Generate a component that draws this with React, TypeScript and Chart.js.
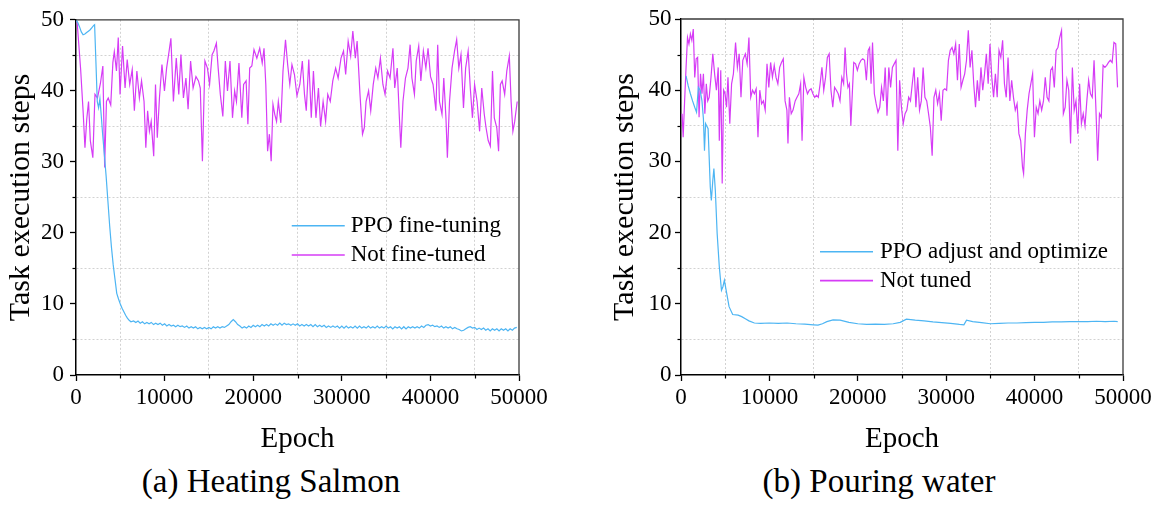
import React, { useEffect, useRef } from 'react';
import { Chart, registerables } from 'chart.js';

Chart.register(...registerables);

const FONT = '"Liberation Serif", "Times New Roman", Times, serif';

// ---------- tick labels ----------
const xTickLabels = [0, 10000, 20000, 30000, 40000, 50000];
const yTickLabels = [0, 10, 20, 30, 40, 50];

// ---------- legend labels ----------
const salmonLabels = ['PPO fine-tuning', 'Not fine-tuned'];
const waterLabels = ['PPO adjust and optimize', 'Not tuned'];
const captions = ['(a) Heating Salmon', '(b) Pouring water'];

const BLUE = '#4db5f3';
const MAGENTA = '#d63cf6';

// ---------- (a) Heating Salmon : PPO fine-tuning ----------
const salmonPpoEpochs = [
  0, 200, 400, 600, 800, 1000, 1200, 1400, 1600, 1800, 2000, 2100, 2250, 2400, 2550, 2700, 2850, 3000,
  3200, 3400, 3600, 3800, 4000, 4200, 4400, 4600, 4800, 5000, 5200, 5400, 5600, 5800, 6000, 6200,
  6500, 6750, 7000, 7250, 7500, 7750, 8000, 8250, 8500, 8750,
  9000, 9250, 9500, 9750, 10000, 10250, 10500, 10750, 11000, 11250,
  11500, 11750, 12000, 12250, 12500, 12750, 13000, 13250, 13500, 13750,
  14000, 14250, 14500, 14750, 15000, 15250, 15500, 15750, 16000, 16250,
  16500, 16750, 17000, 17250, 17500, 17750, 18000, 18250, 18500, 18750,
  19000, 19250, 19500, 19750, 20000, 20250, 20500, 20750, 21000, 21250,
  21500, 21750, 22000, 22250, 22500, 22750, 23000, 23250, 23500, 23750,
  24000, 24250, 24500, 24750, 25000, 25250, 25500, 25750, 26000, 26250,
  26500, 26750, 27000, 27250, 27500, 27750, 28000, 28250, 28500, 28750,
  29000, 29250, 29500, 29750, 30000, 30250, 30500, 30750, 31000, 31250,
  31500, 31750, 32000, 32250, 32500, 32750, 33000, 33250, 33500, 33750,
  34000, 34250, 34500, 34750, 35000, 35250, 35500, 35750, 36000, 36250,
  36500, 36750, 37000, 37250, 37500, 37750, 38000, 38250, 38500, 38750,
  39000, 39250, 39500, 39750, 40000, 40250, 40500, 40750, 41000, 41250,
  41500, 41750, 42000, 42250, 42500, 42750, 43000, 43250, 43500, 43750,
  44000, 44250, 44500, 44750, 45000, 45250, 45500, 45750, 46000, 46250,
  46500, 46750, 47000, 47250, 47500, 47750, 48000, 48250, 48500, 48750,
  49000, 49250, 49500, 49750,
];
const salmonPpoSteps = [
  50, 49.6, 49.0, 48.3, 47.9, 48.0, 48.2, 48.4, 48.6, 48.9, 49.2, 49.3, 44.0, 38.5, 37.6, 38.9, 36.5, 34.0,
  31.0, 28.0, 24.5, 21.0, 18.0, 15.5, 13.5, 11.5, 10.7, 10.0, 9.4, 8.9, 8.4, 8.0, 7.7, 7.5,
  7.6, 7.4, 7.6, 7.3, 7.5, 7.2, 7.4, 7.2, 7.4, 7.1,
  7.3, 7.1, 7.3, 7.0, 7.2, 6.9, 7.1, 6.9, 7.0, 6.8,
  7.0, 6.8, 6.9, 6.7, 6.9, 6.6, 6.8, 6.6, 6.8, 6.5,
  6.7, 6.5, 6.7, 6.5, 6.7, 6.5, 6.8, 6.6, 6.8, 6.6,
  6.8, 6.7, 6.9, 7.1, 7.5, 7.8, 7.5, 7.1, 6.9, 6.6,
  6.8, 6.6, 6.9, 6.7, 7.0, 6.8, 7.0, 6.8, 7.1, 6.9,
  7.1, 6.9, 7.2, 7.0, 7.2, 7.0, 7.3, 7.0, 7.3, 7.1,
  7.2, 7.0, 7.2, 7.0, 7.2, 6.9, 7.1, 6.9, 7.1, 6.9,
  7.1, 6.8, 7.1, 6.8, 7.0, 6.8, 7.0, 6.7, 6.9, 6.7,
  6.9, 6.7, 6.9, 6.6, 6.9, 6.6, 6.9, 6.6, 6.8, 6.6,
  6.9, 6.6, 6.9, 6.6, 6.8, 6.6, 6.9, 6.6, 6.8, 6.6,
  6.9, 6.6, 6.8, 6.6, 6.9, 6.6, 6.8, 6.5, 6.8, 6.6,
  6.8, 6.5, 6.8, 6.5, 6.8, 6.6, 6.8, 6.6, 6.8, 6.6,
  6.9, 6.7, 7.0, 7.1, 6.9, 7.0, 6.8, 6.9, 6.7, 6.9,
  6.6, 6.8, 6.6, 6.8, 6.5, 6.7, 6.5, 6.4, 6.2, 6.3,
  6.5, 6.7, 6.8, 6.6, 6.7, 6.4, 6.6, 6.4, 6.6, 6.3,
  6.5, 6.2, 6.5, 6.3, 6.5, 6.2, 6.5, 6.3, 6.5, 6.2,
  6.5, 6.3, 6.6, 6.7,
];

// ---------- (a) Heating Salmon : Not fine-tuned ----------
const salmonBaseEpochs = [
  121, 525, 808, 1010, 1213, 1415, 1617, 1900, 2142, 2425, 2749, 3031, 3234, 3436, 3638, 3921, 4163, 4325, 4567, 4770,
  4972, 5255, 5538, 5780, 6063, 6346, 6588, 6871, 7154, 7397, 7680, 7882, 8084, 8286, 8488, 8771, 8973, 9175, 9418, 9701,
  9984, 10226, 10509, 10711, 10994, 11318, 11601, 11843, 12126, 12409, 12651, 12934, 13217, 13541, 13824, 14026, 14268, 14551, 14834, 15077,
  15360, 15562, 15845, 16047, 16289, 16572, 16855, 17098, 17381, 17664, 17906, 18108, 18391, 18714, 18917, 19200, 19402, 19604, 19846, 20089,
  20412, 20735, 21018, 21221, 21423, 21625, 21827, 22029, 22231, 22433, 22635, 22837, 23120, 23363, 23646, 23888, 24131, 24373, 24656, 24939,
  25263, 25545, 25788, 25990, 26273, 26556, 26798, 27081, 27364, 27607, 27890, 28173, 28415, 28698, 28981, 29305, 29587, 29911, 30194, 30436,
  30719, 31002, 31245, 31528, 31730, 32053, 32336, 32538, 32740, 33023, 33266, 33549, 33832, 34074, 34357, 34640, 34882, 35165, 35448, 35772,
  35974, 36257, 36499, 36661, 36903, 37186, 37469, 37712, 37914, 38197, 38399, 38682, 38924, 39207, 39490, 39733, 40016, 40299, 40622, 40824,
  41026, 41309, 41511, 41754, 41915, 42158, 42441, 42724, 42966, 43209, 43452, 43734, 43977, 44260, 44502, 44745, 44988, 45270, 45553, 45796,
  46079, 46281, 46523, 46766, 47008, 47211, 47494, 47696, 47898, 48100, 48383, 48625, 48908, 49110, 49312, 49515, 49798,
];
const salmonBaseSteps = [
  49.8, 43, 37, 32, 36, 38.5, 33, 30.6, 39.5, 39, 41, 43.5, 29.2, 38.5, 39, 38, 44, 45.5, 42.8, 47.5,
  39.5, 46.3, 40.4, 44.4, 40.9, 43, 37.2, 42.8, 39, 41.4, 38.5, 32, 37.2, 34.3, 35.7, 30.8, 40.9, 33.4, 39, 43.7,
  40, 43.2, 45.6, 47.4, 38.5, 44.6, 39.5, 45.1, 39, 41.8, 37.4, 44.2, 40.4, 42, 41.4, 40.4, 30.1, 44.2, 43.2, 40.9,
  45.1, 45.6, 46.7, 43.2, 39.5, 36.4, 44.2, 40, 44.2, 36.2, 40, 38.5, 43.9, 36.2, 40.9, 41.4, 35.3, 43.2, 43.5, 45.8,
  44.6, 46, 43.9, 46, 40.9, 31.5, 33.9, 30.1, 38.1, 36.7, 35.7, 38.5, 35.5, 42.8, 47.2, 43.7, 40.9, 43.7, 42.3, 39.3,
  40.9, 44.2, 39.5, 37.2, 44.4, 36.2, 42.8, 36.2, 40.4, 35, 38.5, 35.7, 39.5, 38.5, 41.4, 43.2, 41.8, 44.6, 45.6, 42.3,
  47, 44.9, 48.4, 44.6, 47, 39.5, 33.9, 34.8, 38.5, 40, 37.2, 40.9, 43.2, 41.8, 44.6, 40.9, 39.5, 42.8, 41.8, 46,
  40.4, 43.2, 36.2, 32, 38.5, 41.8, 43.2, 46.5, 41.8, 39.5, 44.2, 46.3, 41.4, 45.6, 43.2, 46, 42, 40.9, 37.2, 46.5,
  38.5, 36.7, 41.8, 36.2, 30.6, 38.5, 43.2, 45.6, 47.2, 43.2, 45.1, 37.6, 43.2, 45.6, 40.4, 36.2, 40.9, 38.5, 34.3, 40.4,
  36.7, 34.8, 33, 32.2, 42.8, 36.2, 34.8, 31.5, 40.9, 41.4, 39.5, 42.8, 44.9, 38.5, 34.3, 35.7, 38.5,
];

// ---------- (b) Pouring water : PPO adjust and optimize ----------
const waterPpoEpochs = [
  572, 818, 1063, 1308, 1553, 1758, 1962, 2167, 2371, 2535,
  2657, 2780, 3066, 3311, 3434, 3597, 3720, 3884, 4088, 4333,
  4579, 4742, 4906, 5110, 5437, 5846, 6459, 6868, 7277, 7685,
  8299, 9000, 10000, 11000, 12000, 13000, 14000, 15000, 15500, 16000,
  16500, 17200, 18000, 19000, 20000, 21000, 22000, 23000, 24000, 24800,
  25500, 26500, 27500, 28500, 29500, 30500, 31500, 32000, 32300, 33000,
  34000, 35000, 36000, 37000, 38000, 39000, 40000, 41000, 42000, 43000,
  44000, 45000, 46000, 47000, 48000, 49000, 49400,
];
const waterPpoSteps = [
  42.0, 40.6, 39.5, 38.5, 37.6, 36.9, 40.4, 40.0, 38.5, 36.0,
  31.5, 35.3, 34.6, 26.4, 24.5, 27.3, 29.0, 25.9, 19.9, 15.2,
  11.9, 12.4, 13.3, 11.9, 9.6, 8.5, 8.4, 8.2, 7.9, 7.6,
  7.3, 7.25, 7.3, 7.25, 7.3, 7.2, 7.15, 7.05, 7.0, 7.2,
  7.5, 7.75, 7.7, 7.4, 7.2, 7.1, 7.15, 7.1, 7.2, 7.4,
  7.85, 7.7, 7.6, 7.45, 7.35, 7.25, 7.1, 7.05, 7.7, 7.5,
  7.35, 7.2, 7.25, 7.3, 7.3, 7.35, 7.4, 7.4, 7.45, 7.45,
  7.5, 7.5, 7.5, 7.55, 7.5, 7.55, 7.5,
];

// ---------- (b) Pouring water : Not tuned ----------
const waterBaseEpochs = [
  123, 245, 409, 572, 736, 899, 1063, 1226, 1390, 1553, 1717, 1880, 2044, 2208, 2371, 2535, 2698, 2862, 3025, 3189,
  3393, 3597, 3802, 4006, 4211, 4333, 4497, 4660, 4824, 4987, 5151, 5314, 5519, 5723, 5928, 6173, 6377, 6582, 6786, 6990,
  7277, 7481, 7685, 7890, 8094, 8299, 8503, 8707, 8912, 9116, 9321, 9525, 9729, 9934, 10138, 10343, 10547, 10751, 10956, 11160,
  11365, 11569, 11773, 11978, 12100, 12264, 12468, 12673, 12918, 13122, 13327, 13531, 13695, 13899, 14104, 14308, 14512, 14717, 14921, 15126,
  15330, 15534, 15739, 15943, 16148, 16352, 16556, 16761, 16965, 17170, 17374, 17578, 17783, 17987, 18192, 18396, 18560, 18723, 18887, 19050,
  19214, 19377, 19541, 19745, 19949, 20154, 20358, 20563, 20767, 20971, 21176, 21339, 21503, 21666, 21871, 22075, 22280, 22484, 22688, 22893,
  23097, 23302, 23506, 23710, 23915, 24119, 24324, 24528, 24732, 24937, 25141, 25346, 25550, 25754, 25959, 26163, 26368, 26572, 26776, 26981,
  27185, 27390, 27594, 27798, 28003, 28207, 28412, 28616, 28820, 29025, 29229, 29434, 29638, 29842, 30047, 30251, 30456, 30660, 30864, 31069,
  31273, 31478, 31682, 31886, 32091, 32295, 32500, 32704, 32908, 33113, 33317, 33522, 33726, 33930, 34135, 34339, 34544, 34748, 34952, 35157,
  35361, 35566, 35770, 35974, 36179, 36383, 36588, 36792, 36996, 37201, 37405, 37610, 37814, 38018, 38223, 38427, 38632, 38754, 38959, 39163,
  39368, 39572, 39776, 39981, 40185, 40390, 40594, 40798, 41003, 41207, 41412, 41616, 41820, 42025, 42229, 42434, 42638, 42842, 43047, 43251,
  43456, 43660, 43864, 44069, 44273, 44478, 44682, 44886, 45091, 45295, 45500, 45704, 45908, 46113, 46317, 46522, 46726, 46930, 47135, 47339,
  47544, 47748, 47952, 48157, 48361, 48566, 48770, 48974, 49179, 49383,
];
const waterBaseSteps = [
  36.7, 33.4, 38.5, 43.2, 47.4, 46.5, 47.9, 47, 48.6, 41.8, 44.4, 44.6, 36.2, 42.3, 39.5, 42.3, 36.7, 40.9, 38.5, 39,
  41.8, 45.1, 42.3, 40, 43.2, 32.9, 42.8, 26.9, 40, 39.5, 37.6, 41.8, 35.3, 40.9, 42.3, 46.7, 43.2, 45.1, 39, 44.2,
  45.1, 43.7, 47.4, 39, 40, 39.5, 40.2, 33.4, 40, 38.1, 38.5, 37.2, 43.7, 40.4, 43.9, 41.8, 43.5, 41.8, 40.9, 43.2,
  43.9, 44.4, 38.5, 37.2, 32.5, 39, 36.7, 37.2, 38.5, 39, 39.5, 40.9, 32.9, 41.8, 40.4, 39.5, 40, 40.2, 39.5, 39,
  39.3, 39, 40.9, 43.2, 40, 41.8, 44.6, 45.1, 40, 37.6, 40.4, 40, 39.5, 38.5, 41.8, 40.9, 46, 42.3, 40.4, 40.9,
  35, 39.5, 43.9, 43.7, 42.8, 43.7, 44.2, 44.4, 44.2, 41.4, 45.6, 46, 40.9, 46.7, 39.5, 38.1, 36.9, 37.6, 40.4, 38.5,
  43.2, 36.4, 43.2, 40.4, 43.2, 43.7, 44.2, 31.5, 41.4, 37.6, 35.3, 36.7, 37.2, 39, 38.5, 40.9, 43.2, 37.6, 41.8, 37.2,
  38.5, 43.2, 39, 38.5, 36.7, 34.8, 30.8, 39, 40, 38.1, 39.5, 35.7, 40, 40.2, 40, 44.2, 45.6, 46, 45.1, 46.5,
  41.4, 46.5, 40.4, 41.4, 42.3, 44.2, 48.4, 43.2, 45.6, 40.9, 37.6, 41.4, 38.5, 43.2, 40, 42.3, 45.1, 40.9, 46.5, 41.8,
  39, 42.3, 39, 45.6, 44.6, 47, 40.9, 39, 44.6, 38.5, 41.4, 39, 37.2, 38.1, 33.9, 32.9, 29.2, 28.3, 33.9, 37.2,
  39.5, 40.9, 42.3, 33.4, 37.6, 36.7, 38.5, 37.2, 38.5, 41.8, 39, 38.5, 42.8, 43.2, 40.4, 45.6, 46, 47.4, 48.4, 36.7,
  37.6, 41.4, 40, 32.5, 43.2, 37.2, 38.5, 33.9, 40.9, 35.3, 36.7, 35, 38.5, 41.4, 39.5, 39, 44.2, 37.6, 30.1, 36.7,
  36.2, 43.5, 43.2, 43.5, 43.9, 44.2, 43.9, 46.7, 46.5, 40.4,
];

function toPoints(xs: number[], ys: number[]) {
  const n = Math.min(xs.length, ys.length);
  const out: { x: number; y: number }[] = [];
  for (let i = 0; i < n; i++) out.push({ x: xs[i], y: ys[i] });
  return out;
}

const framePlugin = {
  id: 'frameBox',
  afterDatasetsDraw(chart: any) {
    const { ctx, chartArea: a, scales } = chart;
    ctx.save();
    ctx.strokeStyle = '#3a3a3a';
    ctx.lineWidth = 1.3;
    ctx.beginPath();
    ctx.moveTo(a.left, a.top);
    ctx.lineTo(a.right, a.top);
    ctx.lineTo(a.right, a.bottom);
    ctx.stroke();
    // minor (short) ticks
    ctx.strokeStyle = '#000';
    ctx.lineWidth = 1.2;
    scales.x.ticks.forEach((t: any) => {
      if (!xTickLabels.includes(t.value)) {
        const px = Math.round(scales.x.getPixelForValue(t.value)) + 0.5;
        ctx.beginPath();
        ctx.moveTo(px, a.bottom);
        ctx.lineTo(px, a.bottom + 3.5);
        ctx.stroke();
      }
    });
    scales.y.ticks.forEach((t: any) => {
      if (!yTickLabels.includes(t.value)) {
        const py = Math.round(scales.y.getPixelForValue(t.value)) + 0.5;
        ctx.beginPath();
        ctx.moveTo(a.left - 3.5, py);
        ctx.lineTo(a.left, py);
        ctx.stroke();
      }
    });
    ctx.restore();
  },
};

const insideLegendPlugin = {
  id: 'insideLegend',
  afterDatasetsDraw(chart: any, _args: any, opts: any) {
    const { ctx, chartArea: a } = chart;
    const x0 = a.left + opts.x * (a.right - a.left);
    chart.data.datasets.forEach((ds: any, i: number) => {
      const y = a.top + opts.ys[i] * (a.bottom - a.top);
      ctx.save();
      ctx.strokeStyle = ds.borderColor;
      ctx.lineWidth = 1.6;
      ctx.beginPath();
      ctx.moveTo(x0, y);
      ctx.lineTo(x0 + opts.lineLen, y);
      ctx.stroke();
      ctx.fillStyle = '#000';
      ctx.font = `23px ${FONT}`;
      ctx.textAlign = 'left';
      ctx.textBaseline = 'middle';
      ctx.fillText(ds.label, x0 + opts.lineLen + opts.gap, y);
      ctx.restore();
    });
  },
};

type Series = { label: string; xs: number[]; ys: number[]; color: string };
type PanelProps = {
  left: number;
  width: number;
  height: number;
  padTop: number;
  padRight: number;
  yAxisWidth: number;
  xAxisHeight: number;
  yTitlePad: number;
  yTickPad: number;
  legendX: number;
  legendYs: number[];
  legendGap: number;
  series: Series[];
};

function Panel(p: PanelProps) {
  const ref = useRef<HTMLCanvasElement | null>(null);
  useEffect(() => {
    if (!ref.current) return;
    const minorGrid = (labels: number[]) => (ctx: any) =>
      ctx.tick && !labels.includes(ctx.tick.value) ? '#d2d2d2' : 'rgba(0,0,0,0)';
    const majorTick = (labels: number[]) => (ctx: any) =>
      ctx.tick && labels.includes(ctx.tick.value) ? '#000' : 'rgba(0,0,0,0)';
    const chart = new Chart(ref.current, {
      type: 'line',
      data: {
        datasets: p.series.map((s) => ({
          label: s.label,
          data: toPoints(s.xs, s.ys),
          borderColor: s.color,
          backgroundColor: s.color,
          borderWidth: 1.2,
          pointRadius: 0,
          fill: false,
          tension: 0,
        })),
      },
      options: {
        animation: false,
        responsive: false,
        maintainAspectRatio: false,
        events: [],
        layout: {
          autoPadding: false,
          padding: { left: 0, top: p.padTop, right: p.padRight, bottom: 0 },
        },
        plugins: {
          legend: { display: false },
          tooltip: { enabled: false },
          title: { display: false },
          insideLegend: { x: p.legendX, ys: p.legendYs, lineLen: 53, gap: p.legendGap },
        } as any,
        scales: {
          x: {
            type: 'linear',
            min: 0,
            max: 50000,
            afterFit: (s: any) => {
              s.height = p.xAxisHeight;
            },
            ticks: {
              stepSize: 5000,
              autoSkip: false,
              maxRotation: 0,
              minRotation: 0,
              padding: 3,
              color: '#000',
              font: { family: FONT, size: 23 },
              callback: (v: any) => (xTickLabels.includes(Number(v)) ? String(v) : ''),
            },
            grid: {
              color: minorGrid(xTickLabels),
              lineWidth: 1,
              drawTicks: true,
              tickLength: 6,
              tickWidth: 1.3,
              tickColor: majorTick(xTickLabels),
            },
            border: { display: true, color: '#000', width: 1.5, dash: [2, 2] },
            title: {
              display: true,
              text: 'Epoch',
              color: '#000',
              font: { family: FONT, size: 29 },
              padding: { top: 0, bottom: 3.4 },
            },
          },
          y: {
            type: 'linear',
            min: 0,
            max: 50,
            afterFit: (s: any) => {
              s.width = p.yAxisWidth;
            },
            ticks: {
              stepSize: 5,
              autoSkip: false,
              padding: p.yTickPad,
              color: '#000',
              font: { family: FONT, size: 23 },
              callback: (v: any) => (yTickLabels.includes(Number(v)) ? String(v) : ''),
            },
            grid: {
              color: minorGrid(yTickLabels),
              lineWidth: 1,
              drawTicks: true,
              tickLength: 6,
              tickWidth: 1.3,
              tickColor: majorTick(yTickLabels),
            },
            border: { display: true, color: '#000', width: 1.5, dash: [2, 2] },
            title: {
              display: true,
              text: 'Task execution steps',
              color: '#000',
              font: { family: FONT, size: 30 },
              padding: { top: p.yTitlePad, bottom: 0 },
            },
          },
        },
      } as any,
      plugins: [framePlugin, insideLegendPlugin],
    });
    return () => chart.destroy();
  }, []);
  return (
    <canvas
      ref={ref}
      width={p.width}
      height={p.height}
      style={{ position: 'absolute', left: p.left, top: 0, width: p.width, height: p.height }}
    />
  );
}

const captionStyle: React.CSSProperties = {
  position: 'absolute',
  top: 465,
  textAlign: 'center',
  fontFamily: FONT,
  fontSize: 33,
  lineHeight: '33px',
  color: '#000',
  whiteSpace: 'nowrap',
};

export default function App() {
  return (
    <div
      style={{
        position: 'absolute',
        left: 0,
        top: 0,
        width: 1156,
        height: 506,
        overflow: 'hidden',
        background: '#fff',
      }}
    >
      <Panel
        left={0}
        width={570}
        height={460}
        padTop={18}
        padRight={51}
        yAxisWidth={76}
        xAxisHeight={85}
        yTitlePad={3}
        yTickPad={6}
        legendX={0.487}
        legendYs={[0.58, 0.662]}
        legendGap={6}
        series={[
          { label: salmonLabels[0], xs: salmonPpoEpochs, ys: salmonPpoSteps, color: BLUE },
          { label: salmonLabels[1], xs: salmonBaseEpochs, ys: salmonBaseSteps, color: MAGENTA },
        ]}
      />
      <Panel
        left={600}
        width={556}
        height={460}
        padTop={19}
        padRight={33}
        yAxisWidth={81}
        xAxisHeight={85}
        yTitlePad={7.5}
        yTickPad={3.5}
        legendX={0.3145}
        legendYs={[0.654, 0.735]}
        legendGap={7}
        series={[
          { label: waterLabels[0], xs: waterPpoEpochs, ys: waterPpoSteps, color: BLUE },
          { label: waterLabels[1], xs: waterBaseEpochs, ys: waterBaseSteps, color: MAGENTA },
        ]}
      />
      <div style={{ ...captionStyle, left: 0, width: 542 }}>{captions[0]}</div>
      <div style={{ ...captionStyle, left: 612, width: 534 }}>{captions[1]}</div>
    </div>
  );
}
